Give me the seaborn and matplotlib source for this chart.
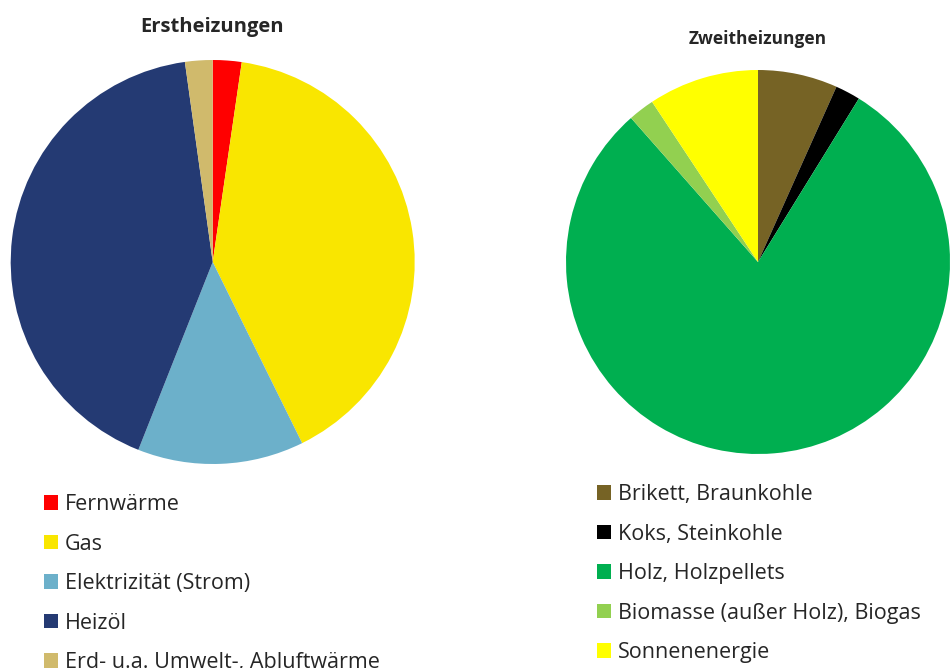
import matplotlib
matplotlib.use("Agg")
import matplotlib.pyplot as plt
import seaborn as sns
from matplotlib.patches import Patch

# Erstheizungen (left pie), shares in %
erst_labels = ["Fernwärme", "Gas", "Elektrizität (Strom)", "Heizöl",
               "Erd- u.a. Umwelt-, Abluftwärme"]
erst_values = [2.3, 40.4, 13.3, 41.8, 2.2]
erst_colors = ["#FF0000", "#F9E600", "#6CB0CA", "#243A73", "#D0BA6C"]

# Zweitheizungen (right pie), shares in %
zweit_labels = ["Brikett, Braunkohle", "Koks, Steinkohle", "Holz, Holzpellets",
                "Biomasse (außer Holz), Biogas", "Sonnenenergie"]
zweit_values = [6.7, 2.1, 79.7, 2.2, 9.3]
zweit_colors = ["#766325", "#000000", "#00AF50", "#92D050", "#FFFF00"]

sns.set_theme(style="white")
plt.rcParams['font.family'] = ['Open Sans', 'DejaVu Sans']

W, H = 950, 668
fig = plt.figure(figsize=(W / 100, H / 100), dpi=100)


def pie_axes(cx, cy, r):
    return fig.add_axes([(cx - r) / W, (H - cy - r) / H, 2 * r / W, 2 * r / H])


ax1 = pie_axes(212.7, 262, 202)
ax1.pie(erst_values, colors=erst_colors, startangle=90, counterclock=False,
        wedgeprops=dict(linewidth=0))
ax1.set_xlim(-1, 1)
ax1.set_ylim(-1, 1)
ax1.axis("off")

ax2 = pie_axes(758, 262, 192)
ax2.pie(zweit_values, colors=zweit_colors, startangle=90, counterclock=False,
        wedgeprops=dict(linewidth=0))
ax2.set_xlim(-1, 1)
ax2.set_ylim(-1, 1)
ax2.axis("off")

fig.text(212 / W, 1 - 27 / H, "Erstheizungen", ha="center", va="center",
         fontsize=14.5, fontweight="bold")
fig.text(758 / W, 1 - 39 / H, "Zweitheizungen", ha="center", va="center",
         fontsize=12.5, fontweight="bold")


def legend(labels, colors, x, y):
    handles = [Patch(facecolor=c, edgecolor="none") for c in colors]
    fig.legend(handles, labels, loc="upper left", bbox_to_anchor=(x / W, 1 - y / H),
               frameon=False, fontsize=15.5, handlelength=0.65, handleheight=0.65,
               handletextpad=0.32, labelspacing=0.86, borderaxespad=0, borderpad=0)


legend(erst_labels, erst_colors, 44, 494)
legend(zweit_labels, zweit_colors, 597, 484)

plt.savefig("out.png", dpi=100)
